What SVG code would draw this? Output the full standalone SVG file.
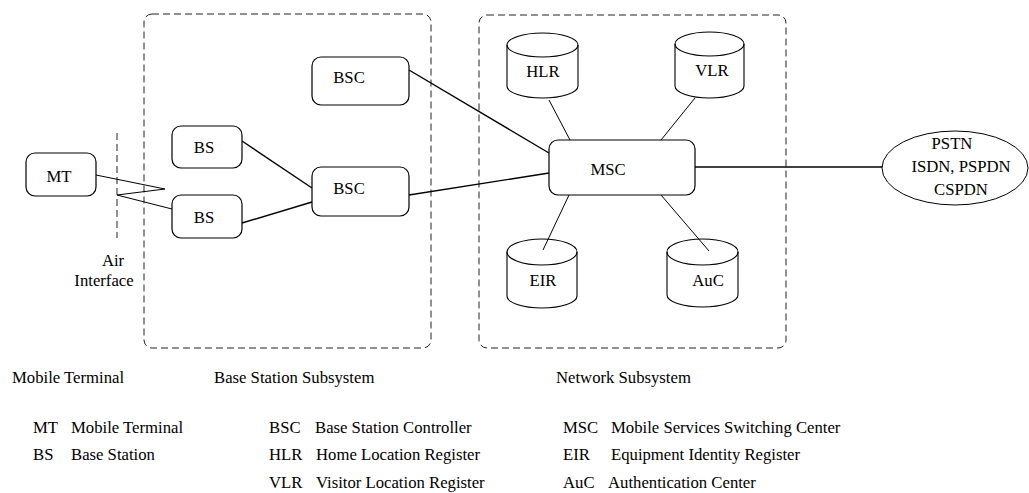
<svg xmlns="http://www.w3.org/2000/svg" width="1029" height="493" viewBox="0 0 1029 493">
<style>
text{font-family:'Liberation Serif','Times New Roman',Times,serif;font-size:16.7px;fill:#000}
.box{fill:#fff;stroke:#000;stroke-width:1.2}
.cyl{fill:none;stroke:#000;stroke-width:1.1}
.grp{fill:none;stroke:#222;stroke-width:1;stroke-dasharray:7 4}
.ln{fill:none;stroke:#000;stroke-width:1.4}
.thin{fill:none;stroke:#000;stroke-width:1}
.mid{text-anchor:middle}
</style>
<g font-family="Liberation Serif, serif">
<g id="subsystems">
<rect id="bss" class="grp" x="144" y="14" width="287" height="334" rx="8"/>
<rect id="nss" class="grp" x="479" y="15" width="307" height="333" rx="8"/>
<line id="air-line" class="grp" x1="117" y1="133" x2="117" y2="238"/>
</g>
<g id="connectors">
<polyline class="thin" points="96,175 165,189 117,195 172,209"/>
<line class="ln" x1="242" y1="141" x2="312" y2="188"/>
<line class="ln" x1="242" y1="223" x2="312" y2="202"/>
<line class="ln" x1="409" y1="70" x2="549" y2="153"/>
<line class="ln" x1="409" y1="195" x2="549" y2="173"/>
<line class="thin" x1="549" y1="100" x2="570" y2="140"/>
<line class="thin" x1="695" y1="98" x2="661" y2="140"/>
<line class="thin" x1="569" y1="195" x2="543" y2="250"/>
<line class="thin" x1="661" y1="195" x2="709" y2="251"/>
<line class="ln" x1="695" y1="167" x2="882" y2="167"/>
</g>
<g id="MT"><rect class="box" x="26" y="153" width="70" height="43" rx="9"/><text x="59" y="182" class="mid">MT</text></g>
<g id="BS1"><rect class="box" x="172" y="126" width="70" height="42" rx="9"/><text x="204" y="153" class="mid">BS</text></g>
<g id="BS2"><rect class="box" x="172" y="195" width="70" height="43" rx="9"/><text x="204" y="223" class="mid">BS</text></g>
<g id="BSC1"><rect class="box" x="312" y="57" width="97" height="48" rx="9"/><text x="349" y="83" class="mid">BSC</text></g>
<g id="BSC2"><rect class="box" x="312" y="167" width="97" height="49" rx="9"/><text x="349" y="194" class="mid">BSC</text></g>
<g id="MSC"><rect class="box" x="549" y="140" width="146" height="55" rx="9"/><text x="608" y="175" class="mid">MSC</text></g>
<g id="HLR">
<ellipse class="cyl" cx="542.5" cy="45" rx="35.5" ry="12"/>
<path class="cyl" d="M507,45 V86 A35.5,12 0 0 0 578,86 V45"/>
<text x="543" y="77" class="mid">HLR</text>
</g>
<g id="VLR">
<ellipse class="cyl" cx="709.5" cy="44" rx="34.5" ry="12"/>
<path class="cyl" d="M675,44 V86 A34.5,12 0 0 0 744,86 V44"/>
<text x="712" y="76" class="mid">VLR</text>
</g>
<g id="EIR">
<ellipse class="cyl" cx="542" cy="252" rx="35" ry="13"/>
<path class="cyl" d="M507,252 V296 A35,12 0 0 0 577,296 V252"/>
<text x="543" y="286" class="mid">EIR</text>
</g>
<g id="AuC">
<ellipse class="cyl" cx="702.5" cy="252" rx="35.5" ry="13"/>
<path class="cyl" d="M667,252 V295 A35.5,12 0 0 0 738,295 V252"/>
<text x="708" y="286" class="mid">AuC</text>
</g>
<g id="PSTN">
<ellipse class="thin" cx="955" cy="168" rx="73" ry="37"/>
<text x="952" y="149" class="mid">PSTN</text>
<text x="961" y="172" class="mid">ISDN, PSPDN</text>
<text x="961" y="195" class="mid">CSPDN</text>
</g>
<g id="air-label">
<text x="113" y="266" class="mid">Air</text>
<text x="104" y="286" class="mid">Interface</text>
</g>
<g id="legend">
<text x="12" y="383">Mobile Terminal</text>
<text x="214" y="383">Base Station Subsystem</text>
<text x="556" y="383">Network Subsystem</text>
<text x="33" y="433">MT</text><text x="71" y="433">Mobile Terminal</text>
<text x="33" y="460">BS</text><text x="71" y="460">Base Station</text>
<text x="269" y="433">BSC</text><text x="315" y="433">Base Station Controller</text>
<text x="269" y="460">HLR</text><text x="316" y="460">Home Location Register</text>
<text x="269" y="488">VLR</text><text x="316" y="488">Visitor Location Register</text>
<text x="563" y="433">MSC</text><text x="611" y="433">Mobile Services Switching Center</text>
<text x="563" y="460">EIR</text><text x="611" y="460">Equipment Identity Register</text>
<text x="563" y="488">AuC</text><text x="608" y="488">Authentication Center</text>
</g>
</g>
</svg>
